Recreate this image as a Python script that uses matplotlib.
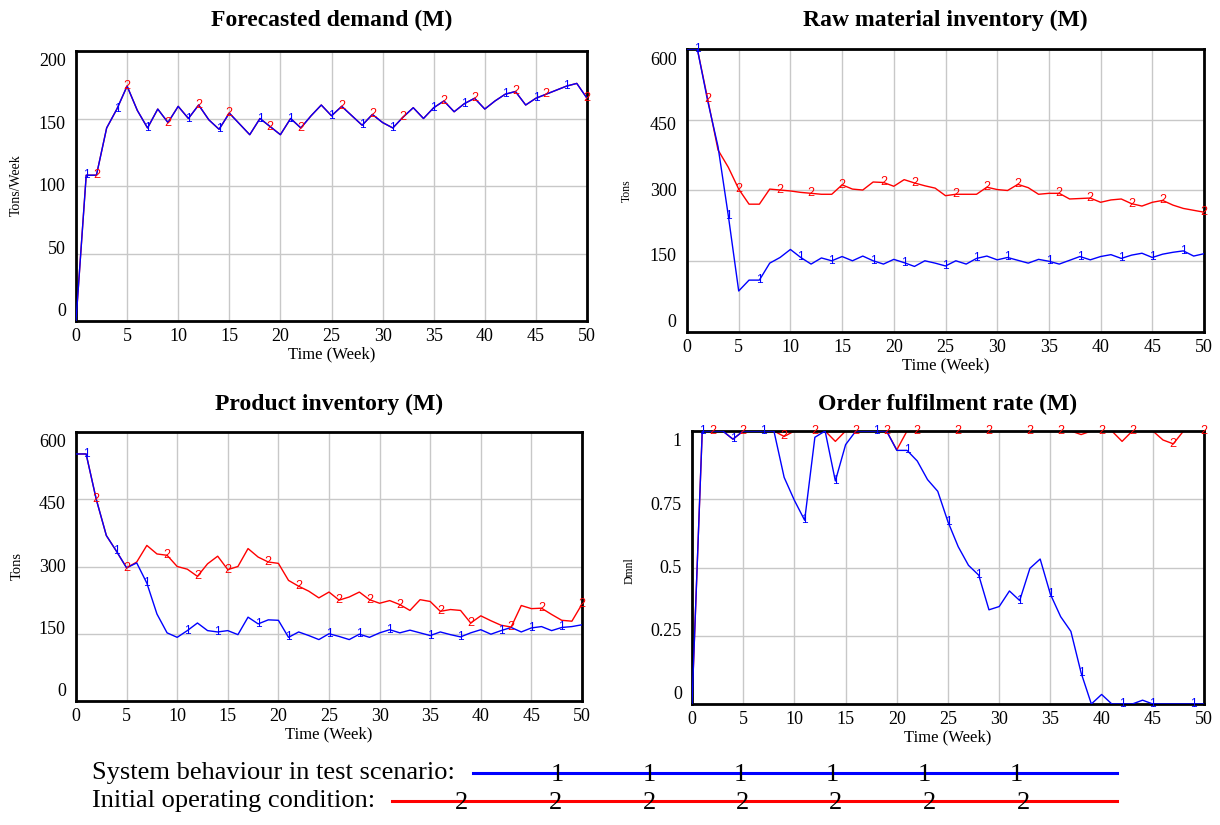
import numpy as np
import matplotlib
matplotlib.use('Agg')
import matplotlib.pyplot as plt

plt.rcParams['font.family'] = ['Liberation Serif', 'DejaVu Serif']

weeks = np.arange(51)

# Forecasted demand (Tons/Week) - both runs coincide
demand_test = [0, 108, 108, 143, 157, 174, 156, 143, 157, 147, 159, 150, 160, 149, 142, 154,
               146, 138, 150, 144, 138, 150, 143, 152, 160, 152, 159, 152, 145, 153, 147,
               143, 151, 158, 150, 158, 163, 155, 161, 165, 157, 163, 168, 170, 160, 165,
               168, 171, 174, 176, 165]
demand_init = list(demand_test)

# Raw material inventory (Tons)
raw_test = [600, 600, 490, 393, 246, 87, 110, 110, 146, 158, 175, 158, 144, 157, 151, 160,
            151, 161, 151, 144, 154, 147, 139, 151, 146, 140, 151, 144, 156, 161, 153,
            158, 152, 146, 154, 150, 144, 152, 160, 153, 160, 164, 156, 163, 167, 158,
            165, 169, 172, 161, 166]
raw_init = [600, 600, 494, 386, 349, 303, 271, 271, 303, 301, 299, 296, 294, 292, 292, 312,
            303, 301, 318, 317, 309, 323, 316, 310, 305, 289, 292, 292, 292, 307, 302,
            300, 313, 306, 292, 294, 294, 282, 283, 284, 275, 280, 282, 272, 267, 275,
            279, 269, 262, 258, 254]

# Product inventory (Tons)
prod_test = [551, 551, 450, 369, 334, 297, 308, 263, 194, 152, 142, 157, 174, 157, 154, 157,
             148, 187, 172, 181, 180, 142, 154, 146, 137, 150, 144, 137, 149, 142, 152,
             159, 152, 158, 152, 146, 154, 148, 143, 152, 159, 149, 157, 164, 154, 163,
             166, 157, 164, 166, 170]
prod_init = [551, 551, 450, 369, 334, 297, 310, 347, 328, 325, 300, 294, 278, 306, 323, 293,
             300, 340, 321, 310, 307, 269, 256, 245, 230, 243, 225, 232, 243, 226, 218,
             224, 215, 202, 226, 222, 200, 204, 202, 174, 190, 179, 169, 165, 213, 206,
             207, 193, 180, 178, 216]

# Order fulfilment rate (Dmnl)
ofr_test = [0, 1, 1, 1, 0.97, 1, 1, 1, 1, 0.83, 0.746, 0.673, 0.977, 1, 0.817, 0.95,
            1, 1, 1, 1, 0.929, 0.929, 0.89, 0.822, 0.779, 0.667, 0.576, 0.508, 0.472, 0.345,
            0.357, 0.414, 0.379, 0.497, 0.531, 0.402, 0.32, 0.266, 0.114, 0, 0.035,
            0, 0, 0, 0.014, 0, 0, 0, 0, 0, 0]
ofr_init = [0, 1, 1, 1, 0.97, 1, 1, 1, 1, 0.98, 1, 1, 1, 1, 0.962, 1,
            1, 1, 1, 1, 0.931, 1, 1, 1, 1, 1, 1, 1, 1, 1,
            1, 1, 1, 1, 1, 1, 1, 1, 0.987, 1, 1,
            1, 0.962, 1, 1, 1, 0.967, 0.953, 1, 1, 1]

marks_test = [1, 4, 7, 11, 14, 18, 21, 25, 28, 31, 35, 38, 42, 45, 48]
marks_init = [2, 5, 9, 12, 15, 19, 22, 26, 29, 32, 36, 39, 43, 46, 50]
marks_test_ofr = [1, 4, 7, 11, 14, 18, 21, 25, 28, 32, 35, 38, 42, 45, 49]
marks_init_ofr = [2, 5, 9, 12, 16, 19, 22, 26, 29, 33, 36, 40, 43, 47, 50]

W, H = 1220, 825
fig = plt.figure(figsize=(W / 100, H / 100), dpi=100)


def box(l, t, r, b):
    return [l / W, 1 - b / H, (r - l) / W, (b - t) / H]


def panel(rect, title, ylabel, ylab_size, test, init, ymax, yticks, ylabels,
          mt, mi, title_y, ylabel_x, ylabel_y):
    ax = fig.add_axes(rect)
    ax.plot(weeks, init, color='#ff0000', lw=1.0, zorder=2)
    ax.plot(weeks, test, color='#0000ff', lw=1.0, zorder=3)
    for w in mi:
        ax.text(w, init[w], '2', color='#ff0000', fontsize=9, family='Liberation Sans',
                ha='center', va='center', zorder=4)
    for w in mt:
        ax.text(w, test[w], '1', color='#0000ff', fontsize=8.5, family='Liberation Sans',
                ha='center', va='center', zorder=5)
    ax.set_xlim(0, 50)
    ax.set_ylim(0, ymax)
    ax.set_xticks(range(0, 51, 5))
    ax.set_yticks(yticks)
    ax.set_yticklabels([])
    ax.tick_params(length=0, labelsize=13, pad=5)
    ax.grid(True, color='#c8c8c8', lw=1.0)
    ax.set_axisbelow(True)
    for s in ax.spines.values():
        s.set_linewidth(2.0)
    ax.set_xlabel('Time (Week)', fontsize=12, labelpad=1)
    # y tick labels in Vensim style, pulled slightly inside the frame
    n = len(ylabels)
    for i, lab in enumerate(ylabels):
        fy = 0.035 + 0.925 * i / (n - 1)
        ax.text(-0.02, fy, lab, transform=ax.transAxes, ha='right', va='center', fontsize=13)
    pos = ax.get_position()
    fig.text(pos.x0 + pos.width / 2, 1 - title_y / H, title, ha='center', va='center',
             fontsize=17, fontweight='bold')
    fig.text(ylabel_x / W, 1 - ylabel_y / H, ylabel, rotation=90, ha='center',
             va='center', fontsize=ylab_size)
    return ax


panel(box(76, 51, 587, 321), 'Forecasted demand (M)', 'Tons/Week', 10,
      demand_test, demand_init, 200, [0, 50, 100, 150, 200],
      ['0', '50', '100', '150', '200'], marks_test, marks_init, 20, 16, 185)
panel(box(687, 49, 1204, 332), 'Raw material inventory (M)', 'Tons', 8.5,
      raw_test, raw_init, 600, [0, 150, 300, 450, 600],
      ['0', '150', '300', '450', '600'], marks_test, marks_init, 20, 627, 191)
panel(box(76, 432, 582, 701), 'Product inventory (M)', 'Tons', 10.5,
      prod_test, prod_init, 600, [0, 150, 300, 450, 600],
      ['0', '150', '300', '450', '600'], marks_test, marks_init, 404, 17, 566)
panel(box(692, 431, 1204, 704), 'Order fulfilment rate (M)', 'Dmnl', 8.5,
      ofr_test, ofr_init, 1, [0, 0.25, 0.5, 0.75, 1],
      ['0', '0.25', '0.5', '0.75', '1'], marks_test_ofr, marks_init_ofr, 404, 630, 571)

# legend drawn in figure pixel space
lg = fig.add_axes([0, 0, 1, 1])
lg.set_xlim(0, W)
lg.set_ylim(H, 0)
lg.axis('off')
lg.text(92, 773, 'System behaviour in test scenario:', fontsize=19, ha='left', va='center')
lg.text(92, 801, 'Initial operating condition:', fontsize=19, ha='left', va='center')
lg.plot([473, 1117], [773, 773], color='#0000ff', lw=2.2)
lg.plot([392, 1117], [801, 801], color='#ff0000', lw=2.2)
for k in range(6):
    lg.text(557 + 91.8 * k, 775, '1', fontsize=19, ha='center', va='center')
for k in range(7):
    lg.text(462 + 93.5 * k, 803, '2', fontsize=19, ha='center', va='center')

fig.savefig('out.png', dpi=100)
